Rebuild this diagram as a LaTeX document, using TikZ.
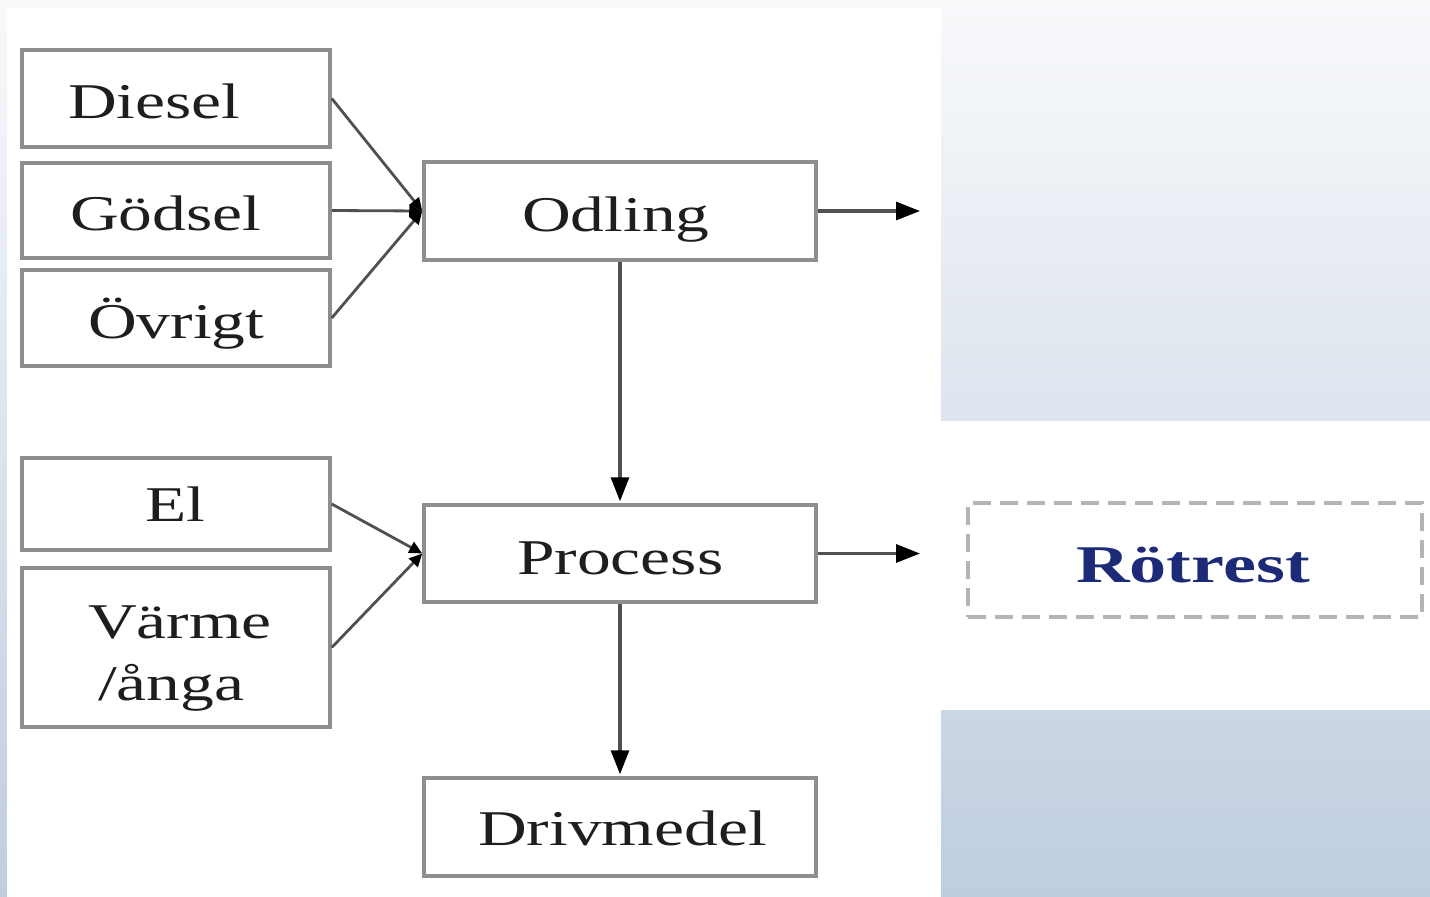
\documentclass[tikz,border=0pt]{standalone}
\usepackage{fontspec}
\setmainfont{Liberation Serif}
\newfontfamily\widefont[FakeStretch=1.35]{Liberation Serif}
\newfontfamily\widerfont[FakeStretch=1.4]{Liberation Serif}
\usetikzlibrary{arrows.meta}
\definecolor{bgtop}{HTML}{F8F9FB}
\definecolor{bgbot}{HTML}{BFCDDF}
\definecolor{boxgray}{HTML}{8E8E8E}
\definecolor{dashgray}{HTML}{B4B4B4}
\definecolor{linegray}{HTML}{505050}
\definecolor{txtgray}{HTML}{1E1E1E}
\definecolor{rotblue}{HTML}{1C2A78}
\tikzset{
  boxnode/.style={draw=boxgray, line width=3.5pt, fill=white, inner sep=0pt, minimum width=308pt},
  bignode/.style={draw=boxgray, line width=3.5pt, fill=white, inner sep=0pt, minimum width=392pt, minimum height=98pt},
  dashnode/.style={draw=dashgray, line width=4pt, dash pattern=on 18pt off 9pt, fill=white, inner sep=0pt, minimum width=454pt, minimum height=114pt},
  lbl/.style={anchor=base west, inner sep=0pt, text=txtgray, font=\widefont\fontsize{50}{64}\selectfont},
  conn/.style={draw=linegray, line width=2.8pt, -{Triangle[length=13pt,width=12pt,color=black]}},
  mainarrow/.style={draw=linegray, line width=3.2pt, -{Triangle[length=24pt,width=18pt,color=black]}}
}
\begin{document}
\begin{tikzpicture}[x=1pt,y=-1pt]
\useasboundingbox (0,0) rectangle (1430,897);
\shade[top color=bgtop, bottom color=bgbot] (0,0) rectangle (1430,897);
\fill[white] (7,8) rectangle (941,897);
\fill[white] (941,421) rectangle (1430,710);

% input boxes
\node[boxnode, minimum height=97pt] (diesel) at (176,98.5) {};
\node[boxnode, minimum height=95pt] (godsel) at (176,210.5) {};
\node[boxnode, minimum height=96pt] (ovrigt) at (176,318) {};
\node[boxnode, minimum height=92pt] (el) at (176,504) {};
\node[boxnode, minimum height=159pt] (varme) at (176,647.5) {};

% main boxes
\node[bignode] (odling) at (620,211) {};
\node[bignode, minimum height=97pt] (process) at (620,553.5) {};
\node[bignode] (drivmedel) at (620,827) {};
\node[dashnode] (rotrest) at (1195,560) {};

% labels
\node[lbl] (tdiesel) at (68,118) {Diesel};
\node[lbl] (tgodsel) at (70,230) {Gödsel};
\node[lbl] (tovrigt) at (88,338) {Övrigt};
\node[lbl] (tel) at (145,521) {El};
\node[lbl] (tvarme) at (88,638) {Värme};
\node[lbl] (tanga) at (98,700) {/ånga};
\node[lbl] (todling) at (522,231) {Odling};
\node[lbl] (tprocess) at (517,574) {Process};
\node[lbl] (tdrivmedel) at (478,845) {Drivmedel};
\node[lbl, text=rotblue, font=\widerfont\bfseries\fontsize{53}{64}\selectfont] (trotrest) at (1076,582) {Rötrest};

% free ends
\coordinate (oout) at (920,211);
\coordinate (pout) at (920,553.5);

% connectors
\draw[conn] (diesel.east) -- (odling.west);
\draw[conn] (godsel.east) -- (odling.west);
\draw[conn] (ovrigt.east) -- (odling.west);
\draw[conn] (el.east) -- (process.west);
\draw[conn] (varme.east) -- (process.west);
\draw[mainarrow] (odling.east) -- (oout);
\draw[mainarrow] (process.east) -- (pout);
\draw[mainarrow, shorten >=2pt] (odling.south) -- (process.north);
\draw[mainarrow, shorten >=2pt] (process.south) -- (drivmedel.north);
\end{tikzpicture}
\end{document}
